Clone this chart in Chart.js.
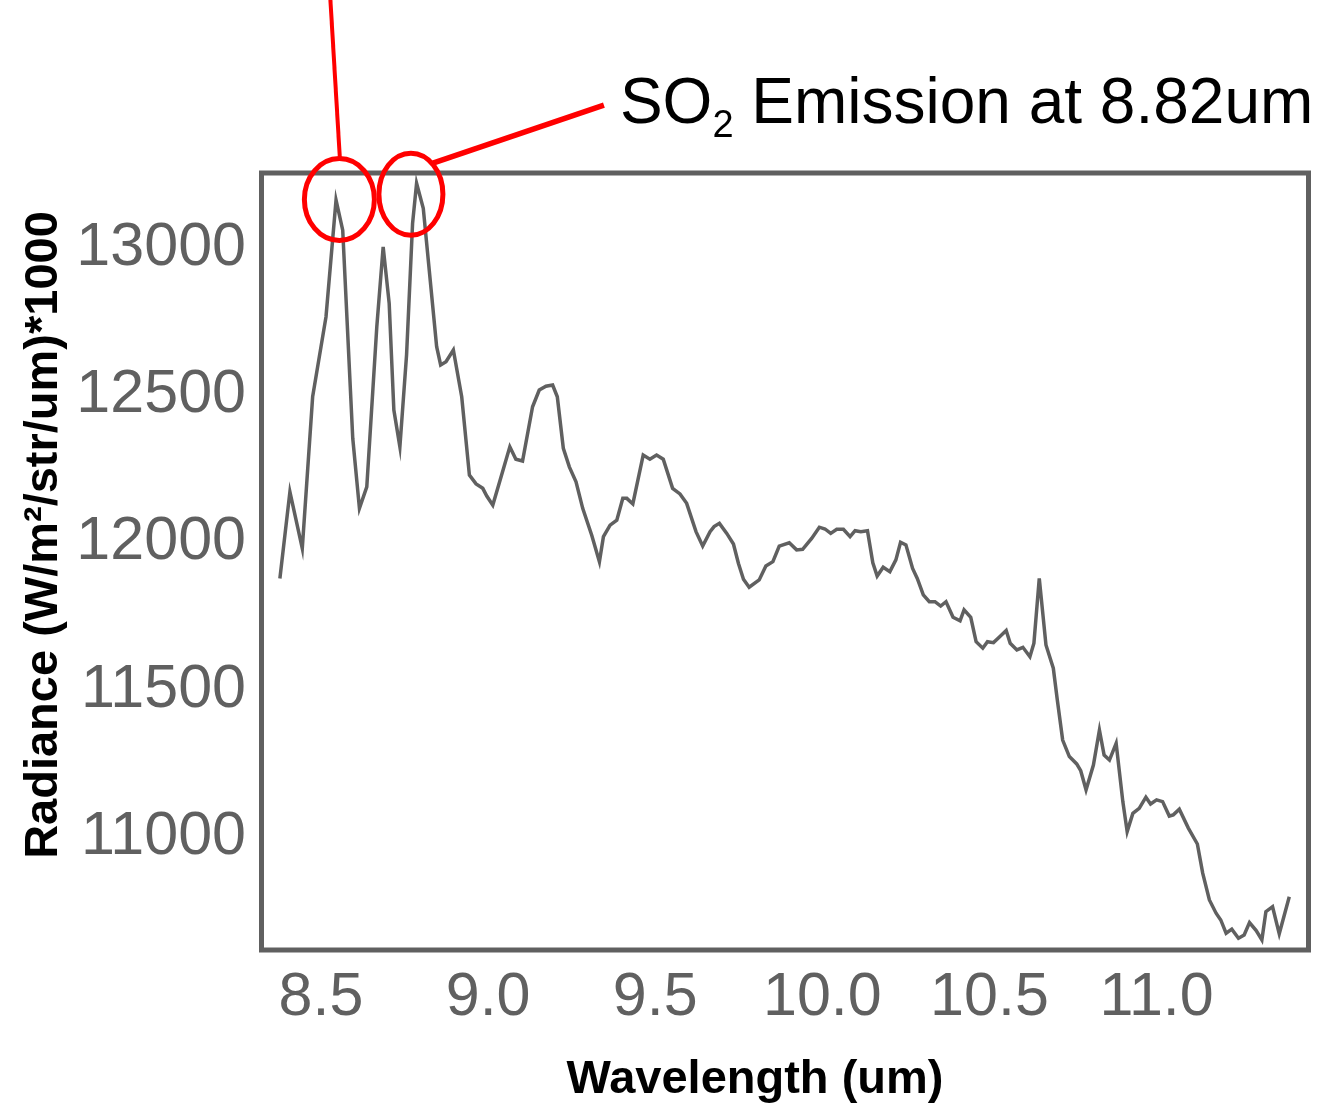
<!DOCTYPE html>
<html>
<head>
<meta charset="utf-8">
<script src="https://cdn.jsdelivr.net/npm/chart.js@4.4.1/dist/chart.umd.min.js"></script>
<style>
  html, body { margin: 0; padding: 0; background: #ffffff; }
  #wrap { width: 1318px; height: 1103px; }
</style>
</head>
<body>
<div id="wrap"><canvas id="c" width="1318" height="1103"></canvas></div>
<script>
// ---- data ----
const wavelength = [
  8.377,8.407,8.444,8.475,8.515,8.545,8.565,8.595,8.615,8.637,
  8.667,8.686,8.704,8.718,8.736,8.756,8.774,8.786,8.806,8.846,
  8.858,8.874,8.896,8.921,8.944,8.964,8.984,8.996,9.014,9.036,
  9.065,9.083,9.103,9.133,9.153,9.173,9.193,9.207,9.225,9.243,
  9.263,9.283,9.310,9.333,9.345,9.365,9.385,9.403,9.415,9.433,
  9.464,9.484,9.504,9.524,9.552,9.574,9.594,9.622,9.642,9.664,
  9.676,9.692,9.714,9.734,9.749,9.764,9.781,9.811,9.831,9.852,
  9.871,9.901,9.923,9.941,9.968,9.991,10.008,10.025,10.043,10.063,
  10.083,10.098,10.115,10.135,10.151,10.164,10.182,10.202,10.220,10.234,
  10.250,10.270,10.284,10.302,10.320,10.337,10.354,10.370,10.391,10.412,
  10.424,10.444,10.460,10.480,10.494,10.512,10.529,10.550,10.562,10.582,
  10.600,10.621,10.633,10.649,10.669,10.691,10.703,10.719,10.739,10.761,
  10.773,10.789,10.811,10.829,10.843,10.859,10.879,10.899,10.912,10.929,
  10.948,10.968,10.982,11.000,11.018,11.038,11.050,11.068,11.095,11.122,
  11.138,11.158,11.178,11.192,11.208,11.225,11.245,11.262,11.278,11.298,
  11.315,11.327,11.347,11.367,11.397
];
const radiance = [
  11878,12172,11980,12495,12767,13163,13061,12354,12116,12189,
  12733,13004,12812,12450,12325,12637,13084,13220,13135,12665,
  12603,12614,12654,12495,12229,12199,12184,12158,12127,12212,
  12325,12283,12277,12461,12518,12531,12535,12495,12320,12257,
  12206,12116,12025,11935,12020,12059,12076,12150,12150,12131,
  12297,12283,12297,12283,12184,12165,12133,12037,11988,12037,
  12054,12065,12031,11995,11929,11875,11848,11873,11920,11935,
  11988,11999,11975,11977,12014,12052,12046,12031,12045,12045,
  12020,12040,12037,12040,11931,11886,11916,11901,11941,12001,
  11992,11912,11878,11822,11799,11799,11784,11799,11746,11734,
  11771,11746,11663,11641,11663,11660,11678,11701,11658,11635,
  11644,11612,11658,11878,11652,11573,11465,11329,11273,11248,
  11225,11160,11244,11363,11278,11261,11318,11120,11018,11080,
  11097,11135,11112,11126,11120,11071,11075,11094,11030,10976,
  10877,10786,10741,10718,10673,10687,10656,10667,10709,10682,
  10650,10746,10763,10671,10797
];
const xTicks = [8.5, 9.0, 9.5, 10.0, 10.5, 11.0];
const yTicks = [11000, 11500, 12000, 12500, 13000];
const xTitle = 'Wavelength (um)';
const yTitle = 'Radiance (W/m\u00B2/str/um)*1000';
const annotationText = 'Emission at 8.82um';
const highlightPeaksX = [8.555, 8.769];
const highlightPeaksY = [13165, 13183];

// ---- styles ----
const GREY = '#606060';
const FONT = "'Liberation Sans', Arial, Helvetica, sans-serif";

const points = wavelength.map((w, i) => ({ x: w, y: radiance[i] }));

const framePlugin = {
  id: 'frameAndNotes',
  afterDraw(chart) {
    const ctx = chart.ctx;
    const a = chart.chartArea;
    const xs = chart.scales.x, ys = chart.scales.y;
    ctx.save();
    // frame
    ctx.strokeStyle = GREY;
    ctx.lineWidth = 5;
    ctx.strokeRect(a.left + 1.5, a.top, a.right - a.left - 3, a.bottom - a.top);

    // axis titles
    ctx.fillStyle = '#000000';
    ctx.font = "bold 47px " + FONT;
    ctx.textAlign = 'center';
    ctx.textBaseline = 'alphabetic';
    ctx.fillText(xTitle, a.left + 495, 1093);
    ctx.save();
    ctx.translate(57, a.top + 362);
    ctx.rotate(-Math.PI / 2);
    ctx.fillText(yTitle, 0, 0);
    ctx.restore();

    // red annotation ellipses + leader lines
    ctx.strokeStyle = '#ff0000';
    ctx.lineWidth = 5;
    const c1x = xs.getPixelForValue(highlightPeaksX[0]);
    const c1y = ys.getPixelForValue(highlightPeaksY[0]);
    const c2x = xs.getPixelForValue(highlightPeaksX[1]);
    const c2y = ys.getPixelForValue(highlightPeaksY[1]);
    ctx.beginPath();
    ctx.ellipse(c1x, c1y, 35, 41, 0, 0, Math.PI * 2);
    ctx.stroke();
    ctx.beginPath();
    ctx.ellipse(c2x, c2y, 32, 41, 0, 0, Math.PI * 2);
    ctx.stroke();
    ctx.lineWidth = 4;
    ctx.beginPath();
    ctx.moveTo(c1x + 0.5, c1y - 41);
    ctx.lineTo(c1x - 9, c1y - 200);
    ctx.stroke();
    ctx.lineWidth = 5.5;
    ctx.beginPath();
    ctx.moveTo(c2x + 22, c2y - 31);
    ctx.lineTo(c2x + 193, c2y - 89);
    ctx.stroke();

    // annotation text "SO2 Emission at 8.82um"
    ctx.fillStyle = '#000000';
    ctx.textAlign = 'left';
    ctx.textBaseline = 'alphabetic';
    let tx = c2x + 209;
    const ty = 123;
    ctx.font = "64px " + FONT;
    ctx.fillText('SO', tx, ty);
    tx += ctx.measureText('SO').width;
    ctx.font = "38px " + FONT;
    ctx.fillText('2', tx, ty + 14);
    tx += ctx.measureText('2').width;
    ctx.font = "64px " + FONT;
    ctx.fillText(' ' + annotationText, tx, ty);
    ctx.restore();
  }
};

new Chart(document.getElementById('c'), {
  type: 'line',
  data: {
    datasets: [{
      data: points,
      borderColor: GREY,
      borderWidth: 3.5,
      pointRadius: 0,
      tension: 0,
      fill: false
    }]
  },
  options: {
    responsive: false,
    animation: false,
    devicePixelRatio: 1,
    layout: { padding: { left: 0, top: 173, right: 8, bottom: 0 } },
    plugins: { legend: { display: false }, tooltip: { enabled: false } },
    scales: {
      x: {
        type: 'linear',
        min: 8.3175,
        max: 11.459,
        afterBuildTicks: (s) => { s.ticks = xTicks.map(v => ({ value: v })); },
        afterFit: (s) => { s.height = 153; },
        grid: { display: false, drawTicks: false },
        border: { display: false },
        ticks: {
          color: GREY,
          font: { family: FONT, size: 61 },
          padding: 12,
          maxRotation: 0,
          autoSkip: false,
          callback: (v) => Number(v).toFixed(1)
        }
      },
      y: {
        type: 'linear',
        min: 10616,
        max: 13255,
        afterBuildTicks: (s) => { s.ticks = yTicks.map(v => ({ value: v })); },
        afterFit: (s) => { s.width = 260; },
        grid: { display: false, drawTicks: false },
        border: { display: false },
        ticks: {
          color: GREY,
          font: { family: FONT, size: 61 },
          padding: 14,
          autoSkip: false,
          callback: (v) => String(v)
        }
      }
    }
  },
  plugins: [framePlugin]
});
</script>
</body>
</html>
